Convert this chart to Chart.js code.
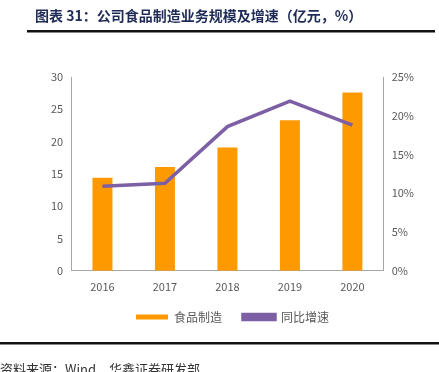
<!DOCTYPE html>
<html>
<head>
<meta charset="utf-8">
<script src="https://cdn.jsdelivr.net/npm/chart.js@4"></script>
<style>
  html, body { margin: 0; padding: 0; background: #fff; }
  canvas { display: block; }
</style>
</head>
<body>
<canvas id="c" width="439" height="372"></canvas>
<script>
const years = ['2016', '2017', '2018', '2019', '2020']
const shipin = [14.4, 16.05, 19.1, 23.3, 27.6]
const tongbi = [10.9, 11.3, 18.6, 21.9, 18.8]

const titleText = '图表 31：公司食品制造业务规模及增速（亿元，%）'
const sourceText = '资料来源：Wind，华鑫证券研发部'
const cjk = '"Noto Sans CJK SC", "Liberation Sans", sans-serif'

// title, rules and source note
const decor = {
    id: 'decor',
    afterDraw(chart) {
        const ctx = chart.ctx
        ctx.save()
        ctx.fillStyle = '#1f2b57'
        ctx.font = 'bold 14px ' + cjk
        ctx.textBaseline = 'middle'
        ctx.fillText(titleText, 35, 16)
        ctx.fillStyle = '#111'
        ctx.fillRect(27, 30, 408, 2.5)
        ctx.fillRect(0, 342, 439, 2.5)
        ctx.fillStyle = '#333'
        ctx.font = '13px ' + cjk
        ctx.fillText(sourceText, 0, 369)
        ctx.restore()
    }
}

const ctx = document.getElementById('c').getContext('2d')
new Chart(ctx, {
    type: 'bar',
    data: {
        labels: years,
        datasets: [{
            label: '食品制造\u3000',
            data: shipin,
            backgroundColor: '#ff9900',
            borderColor: '#ff9900',
            barPercentage: 0.32,
            categoryPercentage: 1,
            yAxisID: 'y',
            order: 2
        }, {
            type: 'line',
            label: '同比增速',
            data: tongbi,
            borderColor: '#7d5fa6',
            backgroundColor: '#7d5fa6',
            borderWidth: 3.5,
            pointRadius: 0,
            tension: 0,
            yAxisID: 'y1',
            order: 1
        }]
    },
    options: {
        responsive: false,
        animation: false,
        layout: { padding: { top: 77, left: 47, right: 21, bottom: 39 } },
        plugins: {
            legend: {
                position: 'bottom',
                labels: {
                    boxWidth: 32,
                    boxHeight: 5,
                    color: '#595959',
                    font: { family: cjk, size: 12 },
                    padding: 9,
                    sort: (a, b) => a.datasetIndex - b.datasetIndex
                }
            },
            tooltip: { enabled: false }
        },
        scales: {
            x: {
                grid: { display: false, drawTicks: false },
                border: { color: '#a6a6a6', width: 1 },
                ticks: { color: '#595959', font: { family: cjk, size: 11 }, padding: 9 }
            },
            y: {
                position: 'left',
                min: 0, max: 30,
                ticks: { stepSize: 5, color: '#595959', font: { family: cjk, size: 11 }, padding: 4 },
                grid: { display: false, drawOnChartArea: false, drawTicks: true, tickLength: 4, tickColor: '#a6a6a6' },
                border: { color: '#a6a6a6', width: 1 }
            },
            y1: {
                position: 'right',
                min: 0, max: 25,
                ticks: { stepSize: 5, color: '#595959', font: { family: cjk, size: 11 }, padding: 4,
                    callback: v => v + '%' },
                grid: { display: false, drawOnChartArea: false, drawTicks: true, tickLength: 4, tickColor: '#a6a6a6' },
                border: { color: '#a6a6a6', width: 1 }
            }
        }
    },
    plugins: [decor]
})
</script>
</body>
</html>
